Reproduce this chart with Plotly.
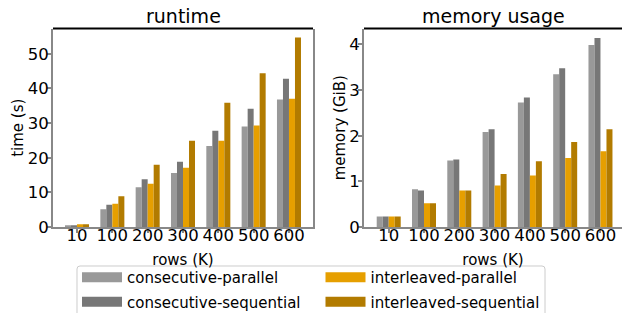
import plotly.graph_objects as go

categories = ["10", "100", "200", "300", "400", "500", "600"]
series_names = ["consecutive-parallel", "consecutive-sequential",
                "interleaved-parallel", "interleaved-sequential"]
colors = ["#999999", "#777777", "#E69F00", "#B27B00"]

runtime_cp = [0.5, 5.1, 11.5, 15.6, 23.4, 29.0, 36.8]
runtime_cs = [0.5, 6.4, 13.8, 18.8, 27.8, 34.1, 42.8]
runtime_ip = [0.8, 6.7, 12.5, 17.1, 24.9, 29.3, 37.0]
runtime_is = [0.8, 8.9, 18.0, 24.9, 35.9, 44.4, 54.7]

memory_cp = [0.23, 0.83, 1.46, 2.08, 2.73, 3.35, 3.99]
memory_cs = [0.23, 0.80, 1.48, 2.14, 2.84, 3.48, 4.14]
memory_ip = [0.23, 0.52, 0.80, 0.91, 1.13, 1.51, 1.66]
memory_is = [0.23, 0.52, 0.80, 1.16, 1.44, 1.86, 2.14]

runtime = [runtime_cp, runtime_cs, runtime_ip, runtime_is]
memory = [memory_cp, memory_cs, memory_ip, memory_is]

W, H = 622, 313
FONT = "DejaVu Sans"
SPINE = "#888888"

lx0, lx1 = 53, 313
rx0, rx1 = 364, 622
ytop, ybot = 28.5, 227

dom_l = [lx0 / W, lx1 / W]
dom_r = [rx0 / W, 1.0]
dom_y = [(H - ybot) / H, (H - ytop) / H]

fig = go.Figure()
for i, name in enumerate(series_names):
    fig.add_trace(go.Bar(x=categories, y=runtime[i], name=name,
                         marker=dict(color=colors[i], line=dict(width=0)),
                         xaxis="x", yaxis="y", showlegend=False,
                         offsetgroup=str(i)))
    fig.add_trace(go.Bar(x=categories, y=memory[i], name=name,
                         marker=dict(color=colors[i], line=dict(width=0)),
                         xaxis="x2", yaxis="y2", showlegend=False,
                         offsetgroup=str(i)))

legend_of = ["legend", "legend", "legend2", "legend2"]
for i, name in enumerate(series_names):
    fig.add_trace(go.Scatter(x=[None], y=[None], mode="lines", name=name,
                             line=dict(color=colors[i], width=12),
                             legend=legend_of[i], legendgroup=name,
                             xaxis="x", yaxis="y"))

axis_common = dict(showline=True, linecolor=SPINE, linewidth=2,
                   ticks="outside", ticklen=4, tickwidth=1.5, tickcolor=SPINE,
                   showgrid=False, zeroline=False, automargin=False,
                   tickfont=dict(family=FONT, size=16.5, color="#000"))

leg_common = dict(orientation="v", xanchor="left", yanchor="top",
                  bgcolor="rgba(0,0,0,0)", borderwidth=0,
                  traceorder="grouped", tracegroupgap=2, itemwidth=40,
                  font=dict(family=FONT, size=15, color="#000"))

# legend frame (decoration), pixel coords -> paper coords
bx0, bx1, by0, by1, rr = 77, 545, 266, 330, 3
frame_pts = [("M", bx0 + rr, by0), ("L", bx1 - rr, by0),
             ("Q", bx1, by0, bx1, by0 + rr), ("L", bx1, by1),
             ("L", bx0, by1), ("L", bx0, by0 + rr),
             ("Q", bx0, by0, bx0 + rr, by0)]
def to_paper(x, y):
    return f"{x / W:.5f},{(H - y) / H:.5f}"
parts = []
for seg in frame_pts:
    cmd, coords = seg[0], seg[1:]
    pts = [to_paper(coords[k], coords[k + 1]) for k in range(0, len(coords), 2)]
    parts.append(cmd + " " + " ".join(pts))
frame_path = " ".join(parts) + " Z"

fig.update_layout(
    width=W, height=H,
    margin=dict(l=0, r=0, t=0, b=0, autoexpand=False),
    paper_bgcolor="white", plot_bgcolor="white",
    barmode="group", bargap=0.32, bargroupgap=0,
    font=dict(family=FONT, size=15, color="#000"),
    xaxis=dict(domain=dom_l, anchor="y", type="category",
               range=[-0.68, 6.68], mirror=False, ticklabelstandoff=-12,
               title=dict(text="rows (K)", font=dict(family=FONT, size=15), standoff=11),
               **axis_common),
    yaxis=dict(domain=dom_y, anchor="x", range=[0, 57.3], mirror=True,
               tickvals=[0, 10, 20, 30, 40, 50], ticklabelstandoff=-5,
               title=dict(text="time (s)", font=dict(family=FONT, size=15), standoff=0),
               **axis_common),
    xaxis2=dict(domain=dom_r, anchor="y2", type="category",
                range=[-0.70, 6.61], mirror=False, ticklabelstandoff=-12,
                title=dict(text="rows (K)", font=dict(family=FONT, size=15), standoff=11),
                **axis_common),
    yaxis2=dict(domain=dom_y, anchor="x2", range=[0, 4.35], mirror=False,
                tickvals=[0, 1, 2, 3, 4], ticklabelstandoff=-5,
                title=dict(text="memory (GiB)", font=dict(family=FONT, size=15), standoff=0),
                **axis_common),
    legend=dict(x=77 / W, y=(H - 261) / H, **leg_common),
    legend2=dict(x=320.5 / W, y=(H - 261) / H, **leg_common),
    shapes=[
        dict(type="path", xref="paper", yref="paper", path=frame_path,
             line=dict(color="#cccccc", width=1), fillcolor="rgba(255,255,255,0.8)",
             layer="below"),
        dict(type="line", xref="paper", yref="paper", x0=dom_l[0], x1=dom_l[1],
             y0=dom_y[1], y1=dom_y[1], line=dict(color="black", width=1.8)),
        dict(type="line", xref="paper", yref="paper", x0=dom_r[0], x1=dom_r[1],
             y0=dom_y[1], y1=dom_y[1], line=dict(color="black", width=1.8)),
    ],
    annotations=[
        dict(text="runtime", xref="paper", yref="paper",
             x=(dom_l[0] + dom_l[1]) / 2, y=dom_y[1], xanchor="center",
             yanchor="bottom", yshift=0, showarrow=False,
             font=dict(family=FONT, size=19, color="#000")),
        dict(text="memory usage", xref="paper", yref="paper",
             x=(dom_r[0] + (rx0 + 258) / W) / 2, y=dom_y[1], xanchor="center",
             yanchor="bottom", yshift=0, showarrow=False,
             font=dict(family=FONT, size=19, color="#000")),
    ],
)

fig.write_html("out.html", config={"displayModeBar": False},
               post_script="document.body.style.margin='0';")
